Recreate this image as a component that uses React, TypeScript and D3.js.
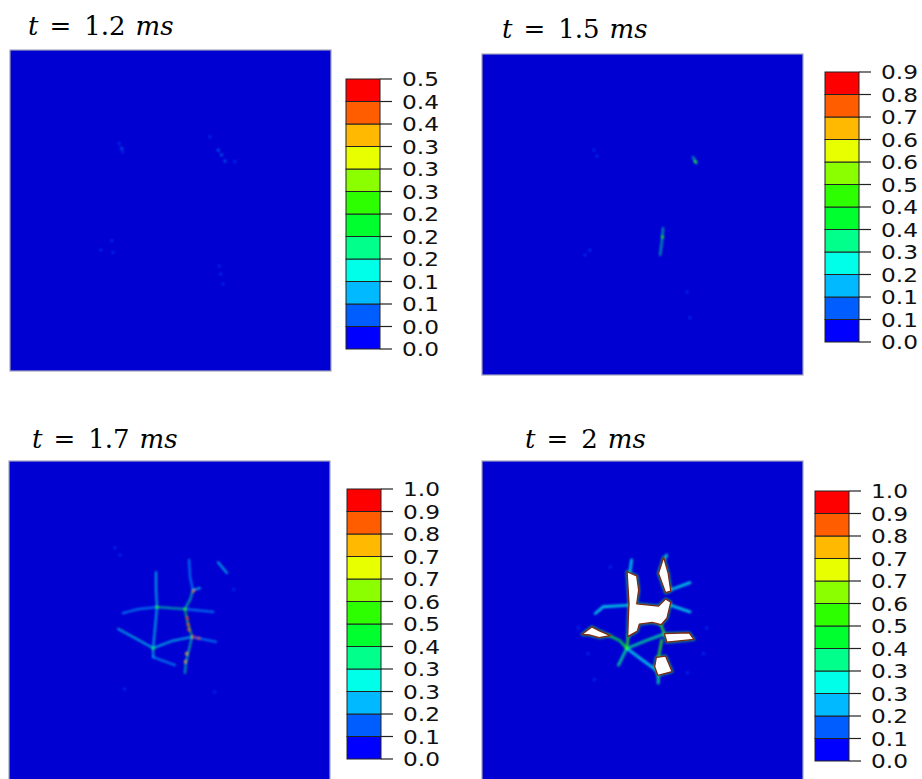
import * as d3 from 'd3';
import { FC } from 'react';

// Abaqus-like rainbow legend, bottom band first
const bandColors = [
  '#0000ff', '#005dff', '#00b9ff', '#00ffe8', '#00ff8b', '#00ff2e',
  '#2eff00', '#8bff00', '#e8ff00', '#ffb900', '#ff5d00', '#ff0000',
];

const times = ['1.2', '1.5', '1.7', '2'];

// tick labels, bottom to top
const ticks12 = ['0.0', '0.0', '0.1', '0.1', '0.2', '0.2', '0.2', '0.3', '0.3', '0.3', '0.4', '0.4', '0.5'];
const ticks15 = ['0.0', '0.1', '0.1', '0.2', '0.3', '0.4', '0.4', '0.5', '0.6', '0.6', '0.7', '0.8', '0.9'];
const ticks17 = ['0.0', '0.1', '0.2', '0.3', '0.3', '0.4', '0.5', '0.6', '0.7', '0.7', '0.8', '0.9', '1.0'];
const ticks20 = ['0.0', '0.1', '0.2', '0.3', '0.3', '0.4', '0.5', '0.6', '0.7', '0.7', '0.8', '0.9', '1.0'];
const legendMax = [0.5, 0.9, 1.0, 1.0];

type Pt = [number, number];
type Crack = { pts: Pt[]; d: number };
type Spot = [number, number, number];

// damage spots / cracks in normalised plate coords (0..1)
const spots12: Spot[] = [
  [0.34, 0.291, 0.08], [0.348, 0.306, 0.1], [0.351, 0.317, 0.08],
  [0.623, 0.27, 0.06], [0.649, 0.312, 0.1], [0.659, 0.327, 0.1], [0.67, 0.346, 0.12], [0.701, 0.348, 0.06],
  [0.283, 0.623, 0.06], [0.317, 0.594, 0.05], [0.32, 0.631, 0.06],
  [0.652, 0.673, 0.05], [0.656, 0.698, 0.06], [0.663, 0.729, 0.05],
];

const cracks15: Crack[] = [
  { pts: [[0.657, 0.321], [0.67, 0.343]], d: 0.3 },
  { pts: [[0.564, 0.542], [0.561, 0.579], [0.555, 0.626]], d: 0.35 },
];
const spots15: Spot[] = [
  [0.349, 0.299, 0.12], [0.358, 0.318, 0.12], [0.321, 0.626, 0.1], [0.336, 0.611, 0.1],
  [0.639, 0.741, 0.1], [0.648, 0.822, 0.1], [0.664, 0.335, 0.45], [0.562, 0.57, 0.45],
];

const cracks17: Crack[] = [
  { pts: [[0.461, 0.455], [0.458, 0.4], [0.458, 0.346]], d: 0.26 },
  { pts: [[0.355, 0.474], [0.4, 0.462], [0.461, 0.455]], d: 0.24 },
  { pts: [[0.461, 0.455], [0.5, 0.458], [0.548, 0.461]], d: 0.34 },
  { pts: [[0.548, 0.461], [0.565, 0.43], [0.573, 0.402]], d: 0.4 },
  { pts: [[0.573, 0.402], [0.564, 0.361], [0.561, 0.308]], d: 0.22 },
  { pts: [[0.573, 0.402], [0.595, 0.396]], d: 0.28 },
  { pts: [[0.461, 0.455], [0.455, 0.52], [0.449, 0.583], [0.449, 0.611]], d: 0.28 },
  { pts: [[0.449, 0.583], [0.395, 0.553], [0.34, 0.523]], d: 0.26 },
  { pts: [[0.449, 0.583], [0.51, 0.56], [0.57, 0.548]], d: 0.28 },
  { pts: [[0.548, 0.461], [0.556, 0.5], [0.57, 0.548]], d: 0.45 },
  { pts: [[0.57, 0.548], [0.56, 0.59], [0.551, 0.629], [0.548, 0.66]], d: 0.34 },
  { pts: [[0.57, 0.548], [0.648, 0.564]], d: 0.24 },
  { pts: [[0.449, 0.611], [0.517, 0.636]], d: 0.24 },
  { pts: [[0.548, 0.461], [0.636, 0.47]], d: 0.2 },
  { pts: [[0.651, 0.315], [0.679, 0.349]], d: 0.28 },
];
const spots17: Spot[] = [
  [0.556, 0.49, 0.95], [0.558, 0.51, 0.9], [0.56, 0.525, 0.88], [0.575, 0.548, 0.92], [0.59, 0.552, 0.85],
  [0.575, 0.405, 0.85], [0.553, 0.6, 0.8], [0.55, 0.625, 0.75],
  [0.461, 0.455, 0.55], [0.548, 0.461, 0.55], [0.449, 0.583, 0.45],
  [0.346, 0.293, 0.15], [0.33, 0.27, 0.1], [0.36, 0.71, 0.1], [0.7, 0.4, 0.1], [0.64, 0.72, 0.12],
];

const cracks20: Crack[] = [
  { pts: [[0.451, 0.584], [0.425, 0.636]], d: 0.35 },
  { pts: [[0.451, 0.584], [0.5, 0.62], [0.549, 0.656]], d: 0.32 },
  { pts: [[0.451, 0.584], [0.43, 0.56], [0.393, 0.542]], d: 0.45 },
  { pts: [[0.451, 0.584], [0.51, 0.56], [0.564, 0.54]], d: 0.35 },
  { pts: [[0.461, 0.449], [0.378, 0.454], [0.353, 0.475]], d: 0.33 },
  { pts: [[0.586, 0.449], [0.648, 0.47]], d: 0.3 },
  { pts: [[0.586, 0.402], [0.648, 0.379]], d: 0.3 },
  { pts: [[0.456, 0.542], [0.451, 0.584]], d: 0.5 },
  { pts: [[0.554, 0.501], [0.571, 0.545]], d: 0.5 },
  { pts: [[0.56, 0.558], [0.549, 0.615]], d: 0.5 },
  { pts: [[0.549, 0.661], [0.549, 0.692]], d: 0.35 },
  { pts: [[0.461, 0.345], [0.466, 0.308]], d: 0.3 },
  { pts: [[0.57, 0.303], [0.575, 0.293]], d: 0.3 },
];
const spots20: Spot[] = [
  [0.451, 0.584, 0.55], [0.3, 0.52, 0.12], [0.33, 0.6, 0.1], [0.35, 0.68, 0.1],
  [0.7, 0.52, 0.1], [0.69, 0.6, 0.1], [0.4, 0.33, 0.1], [0.64, 0.66, 0.1],
];
const holes20: Pt[][] = [
  [[0.452, 0.345], [0.482, 0.358], [0.488, 0.402], [0.482, 0.445], [0.55, 0.452], [0.572, 0.43],
    [0.588, 0.44], [0.576, 0.49], [0.558, 0.51], [0.53, 0.503], [0.49, 0.508], [0.484, 0.53],
    [0.454, 0.547], [0.456, 0.485], [0.458, 0.443]],
  [[0.566, 0.3], [0.58, 0.35], [0.588, 0.405], [0.572, 0.41], [0.55, 0.35]],
  [[0.568, 0.538], [0.645, 0.535], [0.66, 0.556], [0.576, 0.564]],
  [[0.543, 0.612], [0.572, 0.608], [0.592, 0.656], [0.548, 0.668], [0.538, 0.641]],
  [[0.312, 0.54], [0.342, 0.517], [0.366, 0.529], [0.4, 0.544], [0.365, 0.55], [0.334, 0.542]],
];

const allTicks = [ticks12, ticks15, ticks17, ticks20];
const allCracks = [[], cracks15, cracks17, cracks20];
const allSpots = [spots12, spots15, spots17, spots20];
const allHoles = [[], [], [], holes20];

const S = 321;
const layout = [
  { x: 10, y: 50, tx: 28, ty: 35, lx: 346, ly: 79 },
  { x: 482, y: 54, tx: 502, ty: 38, lx: 825, ly: 72 },
  { x: 9, y: 461, tx: 32, ty: 448, lx: 347, ly: 489 },
  { x: 482, y: 461, tx: 525, ty: 448, lx: 815, ly: 491 },
];

const Panel: FC<{ i: number }> = ({ i }) => {
  const L = layout[i];
  const xs = d3.scaleLinear().domain([0, 1]).range([L.x, L.x + S]);
  const ys = d3.scaleLinear().domain([0, 1]).range([L.y, L.y + S]);
  const color = d3.scaleQuantize<string>().domain([0, legendMax[i]]).range(bandColors);
  const line = d3.line<Pt>().x((d) => xs(d[0])).y((d) => ys(d[1]));
  const yb = d3.scaleLinear().domain([0, 12]).range([L.ly + 270, L.ly]);
  const ticks = allTicks[i];
  const thick = i === 3 ? 2.8 : 2.2;
  const op = i === 3 ? 0.75 : 0.62;

  return (
    <g>
      <text x={L.tx} y={L.ty} fontFamily="DejaVu Serif" fontSize={26} fill="#000">
        <tspan fontStyle="italic">t</tspan>
        <tspan dx={11}>=</tspan>
        <tspan dx={13}>{times[i]}</tspan>
        <tspan dx={10} fontStyle="italic">ms</tspan>
      </text>

      <rect x={L.x} y={L.y} width={S} height={S} fill="#0000d2" stroke="#a3a3bd" strokeWidth={1.2} />
      <g clipPath={`url(#clip${i})`}>
        <g filter="url(#soft)">
          {allCracks[i].map((c, k) => (
            <path key={k} d={line(c.pts) ?? ''} fill="none" stroke={color(c.d)} strokeWidth={thick}
              strokeOpacity={op} strokeDasharray={i === 3 ? undefined : '3 1.3'} strokeLinecap="round" />
          ))}
          {allSpots[i].map((s, k) => (
            <circle key={k} cx={xs(s[0])} cy={ys(s[1])} r={1.6} fill={color(s[2])}
              fillOpacity={s[2] / legendMax[i] > 0.3 ? 0.85 : 0.45} />
          ))}
          {allHoles[i].map((h, k) => (
            <path key={'g' + k} d={line(h) + 'Z'} fill="none" stroke="#30d040" strokeWidth={3.2} strokeOpacity={0.6} strokeLinejoin="round" />
          ))}
        </g>
        <g filter="url(#soft2)">
          {allHoles[i].map((h, k) => (
            <path key={'h' + k} d={line(h) + 'Z'} fill="#ffffff" stroke="#7a2a12" strokeWidth={1.3} strokeLinejoin="round" />
          ))}
        </g>
      </g>

      {bandColors.map((c, k) => (
        <rect key={k} x={L.lx} y={yb(k + 1)} width={34} height={yb(k) - yb(k + 1)} fill={c} stroke="#222" strokeWidth={1} />
      ))}
      {ticks.map((t, k) => (
        <g key={k}>
          <line x1={L.lx + 34} x2={L.lx + 46} y1={yb(k)} y2={yb(k)} stroke="#222" strokeWidth={1.2} />
          <text x={L.lx + 56} y={yb(k)} dy="0.36em" fontFamily="DejaVu Sans" fontSize={20}
            textLength={37} lengthAdjust="spacingAndGlyphs" fill="#111">{t}</text>
        </g>
      ))}
    </g>
  );
};

export default function App() {
  return (
    <svg width={922} height={779} style={{ position: 'absolute', left: 0, top: 0, background: '#fff' }}>
      <defs>
        <filter id="soft" x="-10%" y="-10%" width="120%" height="120%">
          <feGaussianBlur stdDeviation={0.9} />
        </filter>
        <filter id="soft2" x="-10%" y="-10%" width="120%" height="120%">
          <feGaussianBlur stdDeviation={0.4} />
        </filter>
        {layout.map((L, i) => (
          <clipPath key={i} id={`clip${i}`}>
            <rect x={L.x} y={L.y} width={S} height={S} />
          </clipPath>
        ))}
      </defs>
      {layout.map((_, i) => <Panel key={i} i={i} />)}
    </svg>
  );
}
